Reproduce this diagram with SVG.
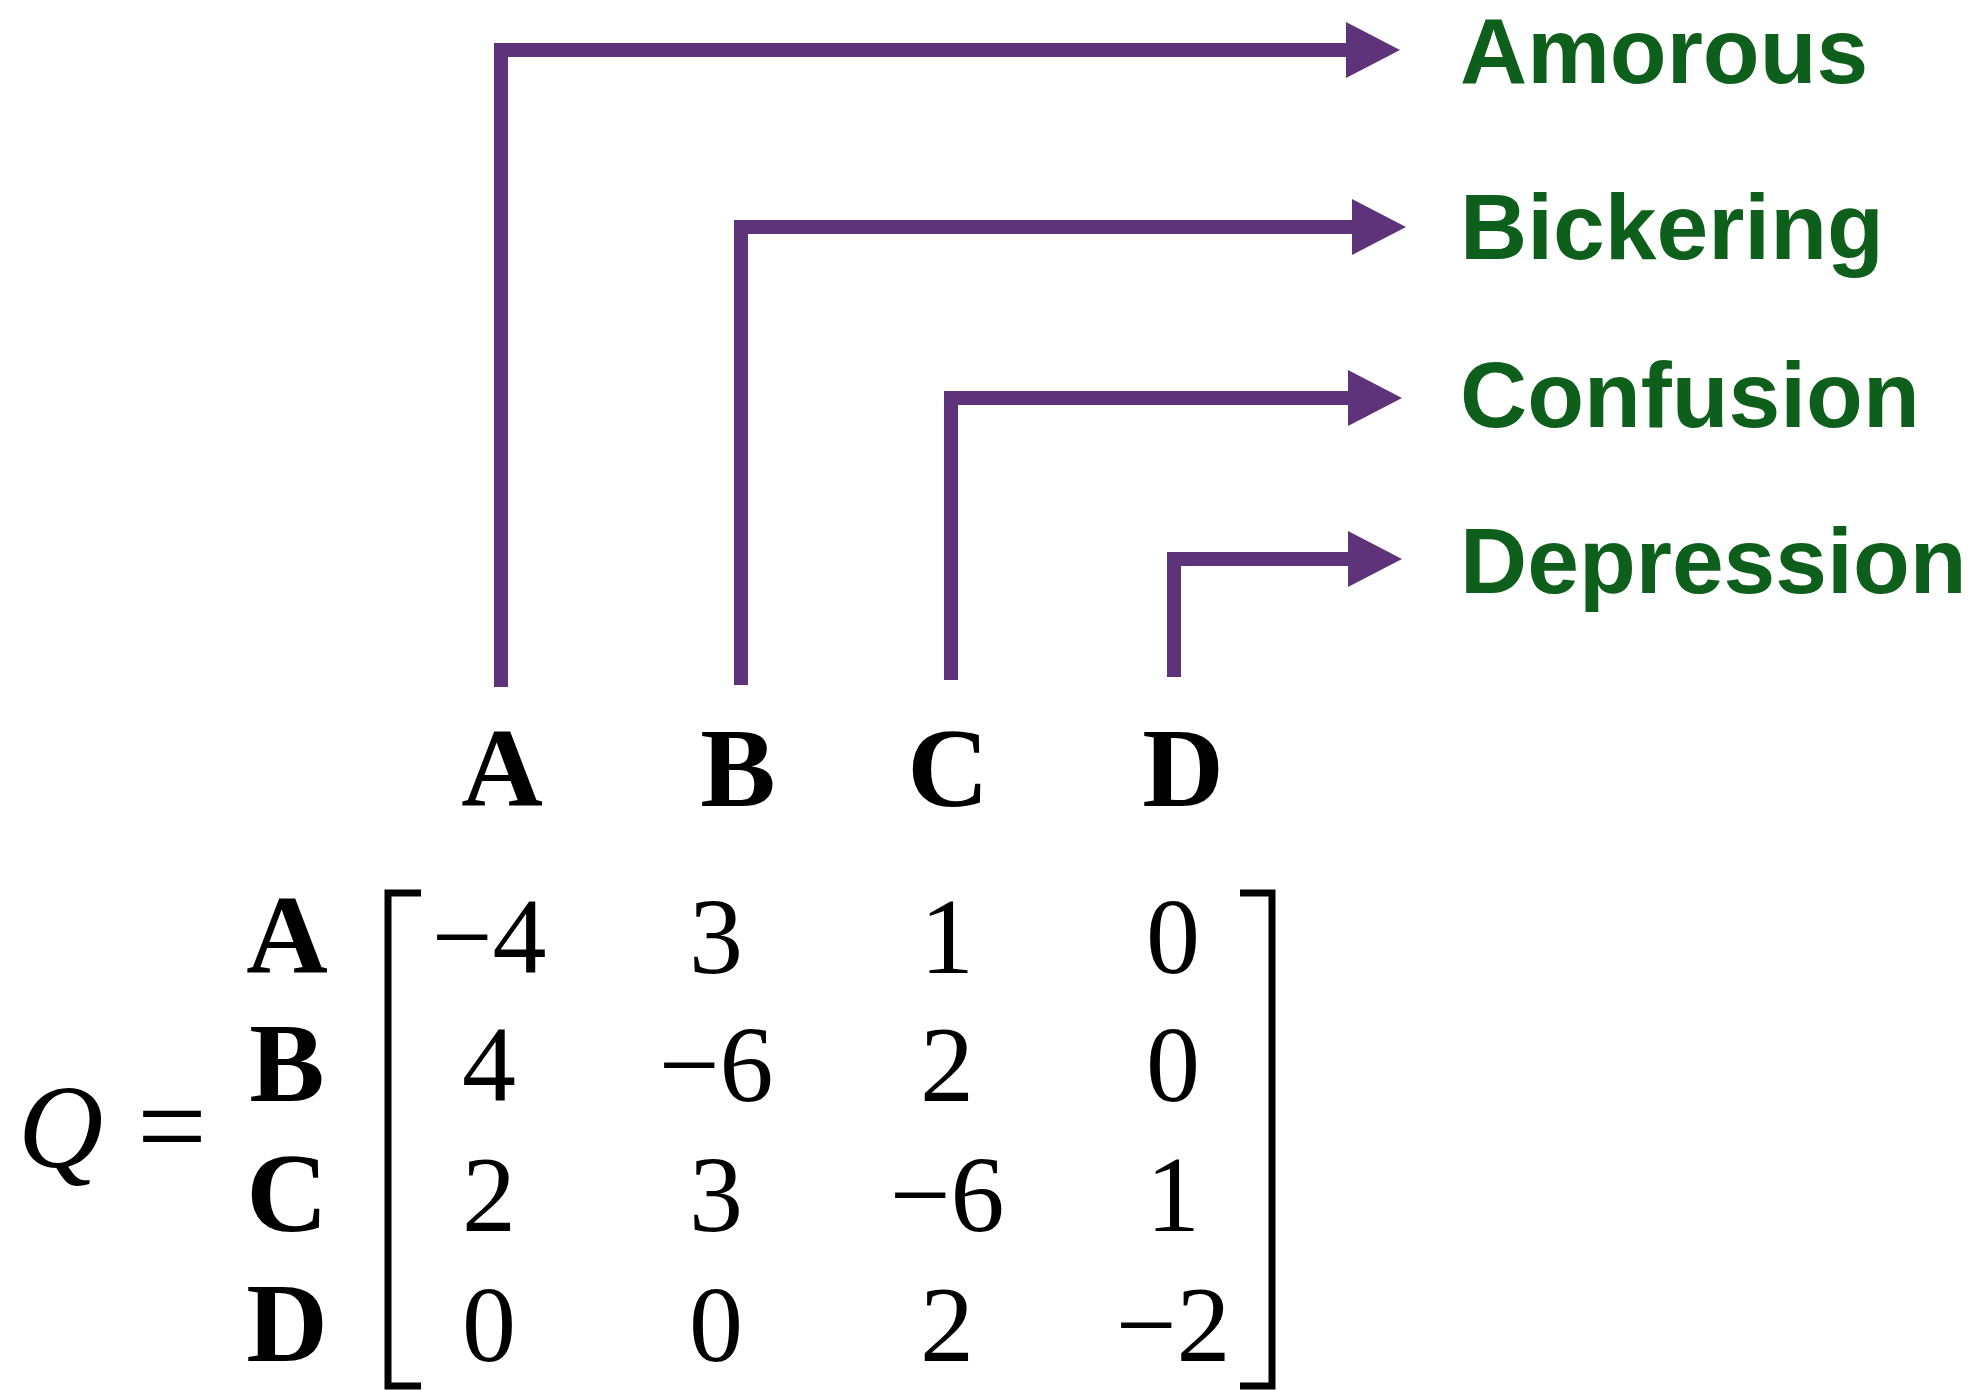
<svg xmlns="http://www.w3.org/2000/svg" width="1976" height="1390" viewBox="0 0 1976 1390">
<style>
.conn{fill:none;stroke:#5f3379;stroke-width:14;stroke-linejoin:miter;stroke-linecap:butt}
.lbl{font-family:"Liberation Sans",Arial,sans-serif;font-weight:bold;font-size:93px;fill:#0e5f1b}
.hdr{font-family:"Liberation Serif","Times New Roman",serif;font-weight:bold;font-size:113px;fill:#000;text-anchor:middle}
.num{font-family:"Liberation Serif","Times New Roman",serif;font-size:108px;fill:#000;text-anchor:middle}
.br{fill:none;stroke:#000;stroke-width:7;stroke-linecap:butt}
</style>
<defs>
<marker id="ah" viewBox="0 0 54 56" refX="0" refY="28" markerWidth="54" markerHeight="56" markerUnits="userSpaceOnUse" orient="auto">
<path d="M0,0 L54,28 L0,56 Z" fill="#5f3379"/>
</marker>
</defs>
<rect width="1976" height="1390" fill="#fff"/>
<g id="connectors">
<path class="conn" d="M501,687 V50 H1346" marker-end="url(#ah)"/>
<path class="conn" d="M741,685 V227 H1352" marker-end="url(#ah)"/>
<path class="conn" d="M951,680 V398 H1348" marker-end="url(#ah)"/>
<path class="conn" d="M1174,677 V559 H1348" marker-end="url(#ah)"/>
</g>
<g id="label-amorous"><text class="lbl" x="1460" y="83">Amorous</text></g>
<g id="label-bickering"><text class="lbl" x="1460" y="259">Bickering</text></g>
<g id="label-confusion"><text class="lbl" x="1460" y="427">Confusion</text></g>
<g id="label-depression"><text class="lbl" x="1460" y="593">Depression</text></g>
<g id="col-headers">
<text class="hdr" x="502" y="806">A</text>
<text class="hdr" x="738" y="806">B</text>
<text class="hdr" x="948" y="806">C</text>
<text class="hdr" x="1183" y="806">D</text>
</g>
<g id="equation">
<text x="18" y="1167" font-family="'Liberation Serif','Times New Roman',serif" font-style="italic" font-size="118">Q</text>
<text x="172" y="1168" font-family="'Liberation Serif','Times New Roman',serif" font-size="124" text-anchor="middle">=</text>
</g>
<g id="row-headers">
<text class="hdr" x="287" y="973">A</text>
<text class="hdr" x="287" y="1101">B</text>
<text class="hdr" x="287" y="1231">C</text>
<text class="hdr" x="287" y="1361">D</text>
</g>
<g id="brackets">
<path class="br" d="M421,893 H388 V1386 H421"/>
<path class="br" d="M1240,893 H1272 V1386 H1240"/>
</g>
<g id="matrix">
<text class="num" x="489" y="973">−4</text>
<text class="num" x="716" y="973">3</text>
<text class="num" x="947" y="973">1</text>
<text class="num" x="1173" y="973">0</text>
<text class="num" x="489" y="1101">4</text>
<text class="num" x="716" y="1101">−6</text>
<text class="num" x="947" y="1101">2</text>
<text class="num" x="1173" y="1101">0</text>
<text class="num" x="489" y="1231">2</text>
<text class="num" x="716" y="1231">3</text>
<text class="num" x="947" y="1231">−6</text>
<text class="num" x="1173" y="1231">1</text>
<text class="num" x="489" y="1361">0</text>
<text class="num" x="716" y="1361">0</text>
<text class="num" x="947" y="1361">2</text>
<text class="num" x="1173" y="1361">−2</text>
</g>
</svg>
